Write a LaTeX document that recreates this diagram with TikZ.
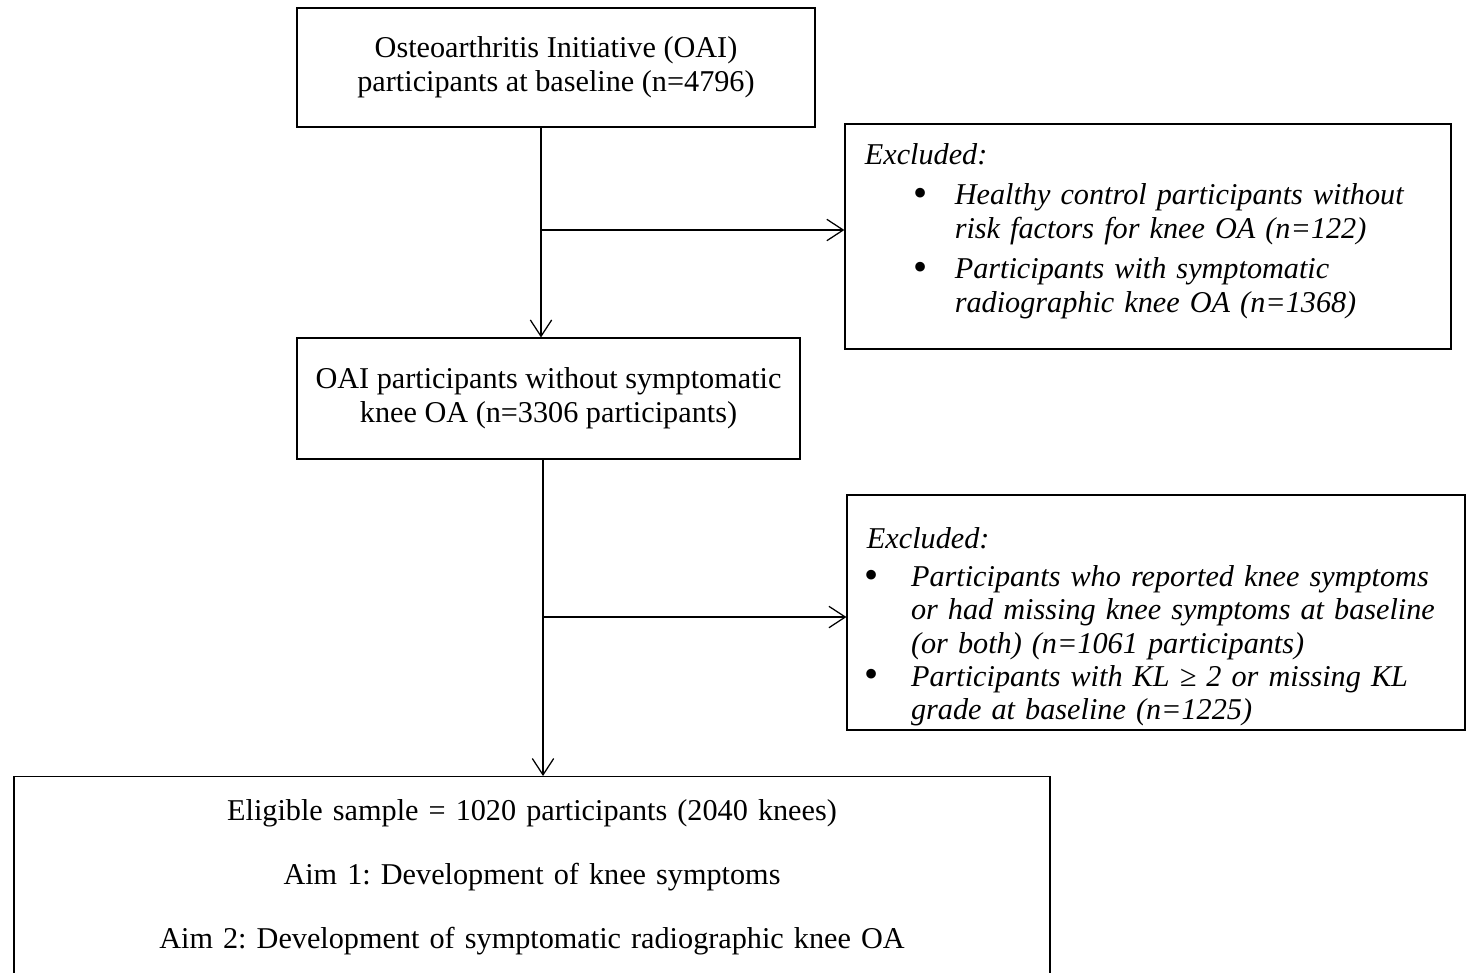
\documentclass[tikz,border=0pt]{standalone}
\usepackage{fontspec}
\setmainfont{Liberation Serif}
\usetikzlibrary{arrows.meta}

% bullet item with hanging indent: #1 indent, #2 gap after bullet, #3 text
\newcommand{\bul}[3]{\par\hangindent=#1\hangafter=0\noindent\llap{\raisebox{-0.6pt}{\upshape\fontsize{16}{16}\selectfont\textbullet}\hspace{#2}}#3\par}

\begin{document}
\frenchspacing
\begin{tikzpicture}[x=0.397pt, y=-0.397pt, line width=0.5pt,
    font=\fontsize{12}{13.6}\selectfont,
    box/.style={draw, align=center, inner sep=0pt},
    exbox/.style={draw, align=left, inner xsep=7.9pt, inner ysep=0pt, font=\fontsize{12}{13.2}\selectfont\itshape},
    arr/.style={-{Straight Barb[length=6.5pt,width=8.5pt]}}]
\clip (0,0) rectangle (1469,972);

\node[box, minimum width=205.6pt, minimum height=47.2pt] (oai) at (556,67.5)
  {Osteoarthritis Initiative (OAI)\\participants at baseline (n=4796)};
\node[box, minimum width=199.7pt, minimum height=48pt] (nosym) at (548.5,398.5)
  {OAI participants without symptomatic\\knee OA (n=3306 participants)};

\node[exbox, text width=224.8pt, minimum height=89.3pt] (excla) at (1148,236.5)
  {Excluded:\par\vspace{3pt}
   \bul{35.7pt}{10.7pt}{Healthy control participants without\newline risk factors for knee OA (n=122)}\vspace{3pt}
   \bul{35.7pt}{10.7pt}{Participants with symptomatic\newline radiographic knee OA (n=1368)\rule[-7pt]{0pt}{7pt}}};
\node[exbox, text width=229.5pt, minimum height=93.3pt] (exclb) at (1156,612.5)
  {\rule{0pt}{19.5pt}Excluded:\par\vspace{2pt}
   \bul{17.5pt}{12.7pt}{Participants who reported knee symptoms\newline or had missing knee symptoms at baseline\newline (or both) (n=1061 participants)}
   \bul{17.5pt}{12.7pt}{Participants with KL ≥ 2 or missing KL\newline grade at baseline (n=1225)}};

\node[box, anchor=north, text width=411.3pt, inner ysep=9pt, font=\fontsize{12}{25.4}\selectfont] (sample) at (532,776)
  {Eligible sample = 1020 participants (2040 knees)\\
   Aim 1: Development of knee symptoms\\
   Aim 2: Development of symptomatic radiographic knee OA\rule[-8pt]{0pt}{8pt}};

\coordinate (splitA) at (541,230);
\coordinate (splitB) at (543,617);
\draw[arr] (oai.south -| splitA) -- (nosym.north -| splitA);
\draw[arr] (splitA) -- (splitA -| excla.west);
\draw[arr] (nosym.south -| splitB) -- (sample.north -| splitB);
\draw[arr] (splitB) -- (splitB -| exclb.west);
\end{tikzpicture}
\end{document}
